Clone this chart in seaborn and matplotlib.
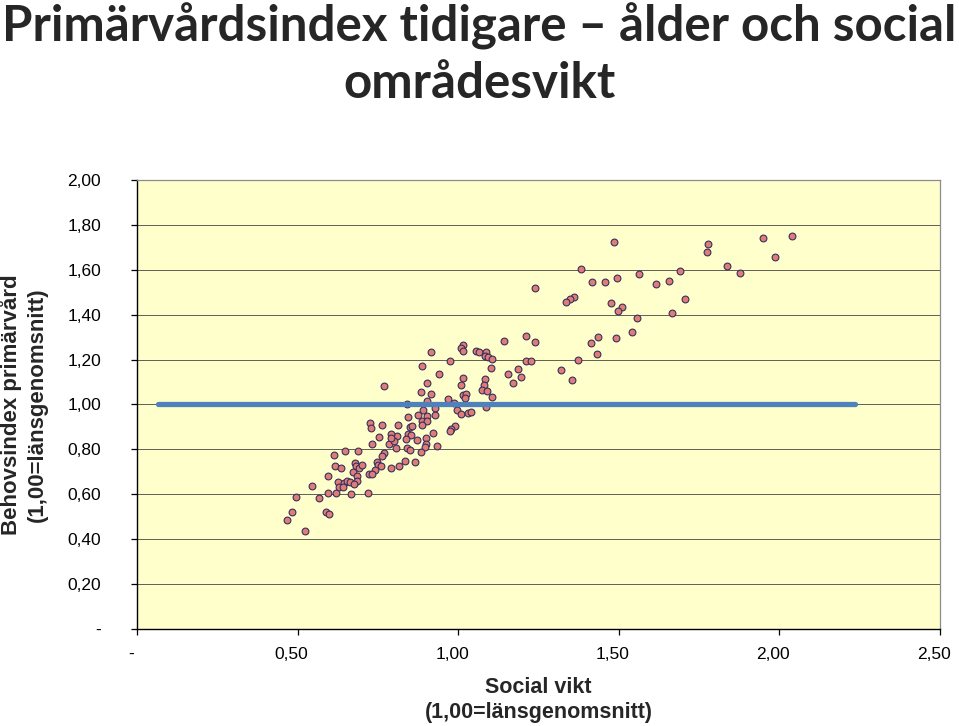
import matplotlib
matplotlib.use("Agg")
import matplotlib.pyplot as plt
import matplotlib.transforms as mtransforms
import seaborn as sns
import pandas as pd

# ---- data ----
social_vikt = [
    0.467, 0.484, 0.494, 0.524, 0.544, 0.567, 0.588, 0.598, 0.593, 0.593,
    0.613, 0.649, 0.687, 0.768, 0.763, 0.616, 0.635, 0.680, 0.683, 0.691,
    0.700, 0.747, 0.750, 0.760, 0.742, 0.721, 0.733, 0.671, 0.685, 0.685,
    0.625, 0.643, 0.654, 0.664, 0.674, 0.628, 0.641, 0.618, 0.666, 0.718,
    0.732, 0.783,
    0.768, 0.724, 0.729, 0.763, 0.752,
    0.840, 0.928, 0.890, 0.928, 0.903, 0.876, 0.995, 1.010, 1.030, 1.040,
    1.086, 0.845, 0.887, 0.903, 0.887, 0.812, 0.849, 0.856, 0.990, 0.977,
    0.973, 0.923, 0.845, 0.809, 0.791, 0.853, 0.838, 0.873, 0.900, 0.799,
    0.900, 0.897, 0.934, 0.807, 0.842, 0.849, 0.885, 0.834, 0.865, 0.817,
    0.792, 0.792, 0.986, 0.904,
    0.916, 0.887, 0.904, 0.884, 0.915, 1.016, 1.009, 1.015, 1.055, 1.066,
    1.085, 1.082, 1.094, 1.105, 0.973, 1.102, 0.941, 1.016, 1.084, 1.008,
    1.079, 1.074, 1.091, 1.015, 1.024, 1.022, 1.105, 0.967,
    1.211, 1.141, 1.240, 1.211, 1.226, 1.372, 1.186, 1.320, 1.155, 1.196,
    1.172, 1.354, 1.382, 1.564, 1.495, 1.418, 1.458, 1.240, 1.359, 1.348,
    1.335, 1.476, 1.509, 1.497, 1.558, 1.541, 1.435, 1.491, 1.412, 1.433,
    1.486, 1.779, 1.774, 1.948, 2.039, 1.986, 1.837, 1.691, 1.876, 1.616,
    1.657, 1.707, 1.666,
]
behovsindex = [
    0.484, 0.520, 0.587, 0.438, 0.638, 0.582, 0.520, 0.512, 0.682, 0.607,
    0.776, 0.793, 0.793, 0.783, 0.771, 0.726, 0.717, 0.738, 0.726, 0.717,
    0.729, 0.744, 0.729, 0.726, 0.708, 0.690, 0.690, 0.698, 0.682, 0.661,
    0.653, 0.649, 0.661, 0.656, 0.645, 0.631, 0.634, 0.604, 0.600, 0.604,
    0.824, 0.824,
    1.082, 0.916, 0.897, 0.907, 0.857,
    1.002, 0.983, 0.974, 0.955, 0.949, 0.952, 0.974, 0.959, 0.962, 0.967,
    0.988, 0.943, 0.925, 0.927, 0.909, 0.907, 0.901, 0.904, 0.904, 0.892,
    0.883, 0.872, 0.870, 0.860, 0.869, 0.863, 0.848, 0.843, 0.851, 0.839,
    0.824, 0.812, 0.816, 0.805, 0.808, 0.797, 0.788, 0.750, 0.745, 0.725,
    0.717, 0.852, 1.007, 1.016,
    1.233, 1.173, 1.097, 1.057, 1.047, 1.265, 1.250, 1.238, 1.237, 1.233,
    1.233, 1.216, 1.213, 1.201, 1.192, 1.161, 1.135, 1.117, 1.114, 1.086,
    1.086, 1.065, 1.059, 1.044, 1.047, 1.030, 1.035, 1.023,
    1.306, 1.283, 1.280, 1.192, 1.192, 1.197, 1.157, 1.152, 1.137, 1.121,
    1.097, 1.109, 1.604, 1.580, 1.565, 1.544, 1.544, 1.520, 1.478, 1.469,
    1.457, 1.453, 1.434, 1.418, 1.387, 1.324, 1.302, 1.295, 1.273, 1.224,
    1.723, 1.715, 1.679, 1.743, 1.751, 1.656, 1.617, 1.596, 1.584, 1.537,
    1.551, 1.470, 1.406,
]
reference_x = [0.064, 2.235]
reference_y = [1.00, 1.00]

x_ticks = [0.0, 0.5, 1.0, 1.5, 2.0, 2.5]
x_tick_labels = ["-", "0,50", "1,00", "1,50", "2,00", "2,50"]
y_ticks = [0.0, 0.2, 0.4, 0.6, 0.8, 1.0, 1.2, 1.4, 1.6, 1.8, 2.0]
y_tick_labels = ["-", "0,20", "0,40", "0,60", "0,80", "1,00",
                 "1,20", "1,40", "1,60", "1,80", "2,00"]

title = "Primärvårdsindex tidigare – ålder och social\nområdesvikt"
x_label = "Social vikt\n(1,00=länsgenomsnitt)"
y_label = "Behovsindex primärvård\n(1,00=länsgenomsnitt)"

# ---- plot ----
sns.set_theme(style="white")
plt.rcParams["font.family"] = ["Liberation Sans", "DejaVu Sans"]

df = pd.DataFrame({"x": social_vikt, "y": behovsindex})
ref = pd.DataFrame({"x": reference_x, "y": reference_y})

fig = plt.figure(figsize=(9.59, 7.26), dpi=100)
ax = fig.add_axes([0.1429, 0.1336, 0.8373, 0.6185])
ax.set_facecolor("#FFFFCC")

sns.scatterplot(data=df, x="x", y="y", ax=ax, s=24, color="#E07C78",
                edgecolor="#35305C", linewidth=0.8, zorder=3, legend=False)
sns.lineplot(data=ref, x="x", y="y", ax=ax, color="#4F81BD",
             linewidth=3.8, zorder=4, legend=False)

ax.set_xlim(0, 2.5)
ax.set_ylim(0, 2.0)
ax.set_xticks(x_ticks)
ax.set_xticklabels(x_tick_labels)
ax.set_yticks(y_ticks)
ax.set_yticklabels(y_tick_labels)

ax.yaxis.grid(True, color="#5E5E55", linewidth=0.7)
ax.xaxis.grid(False)
ax.set_axisbelow(True)

ax.tick_params(axis="y", direction="out", length=4, width=0.9, color="black",
               pad=22, labelsize=12.5, labelcolor="black", left=True)
ax.tick_params(axis="x", direction="out", length=4, width=0.9, color="black",
               pad=9, labelsize=12.5, labelcolor="black", bottom=True)

shift = mtransforms.ScaledTranslation(-6 / 100, 0, fig.dpi_scale_trans)
for lbl in ax.get_xticklabels():
    lbl.set_transform(lbl.get_transform() + shift)

for side in ["left", "bottom"]:
    ax.spines[side].set_color("black")
    ax.spines[side].set_linewidth(1.0)
for side in ["top", "right"]:
    ax.spines[side].set_color("#8C8C8C")
    ax.spines[side].set_linewidth(0.9)

ax.set_xlabel(x_label, fontsize=15.5, fontweight="bold", labelpad=11,
              linespacing=1.2)
ax.set_ylabel(y_label, fontsize=16, fontweight="bold", labelpad=14,
              linespacing=1.3)

fig.text(0.5, 0.997, title, ha="center", va="top", fontsize=35.5,
         fontweight="bold", family=["Lato", "DejaVu Sans"], linespacing=1.3)

fig.savefig("out.png", dpi=100, facecolor="white")
